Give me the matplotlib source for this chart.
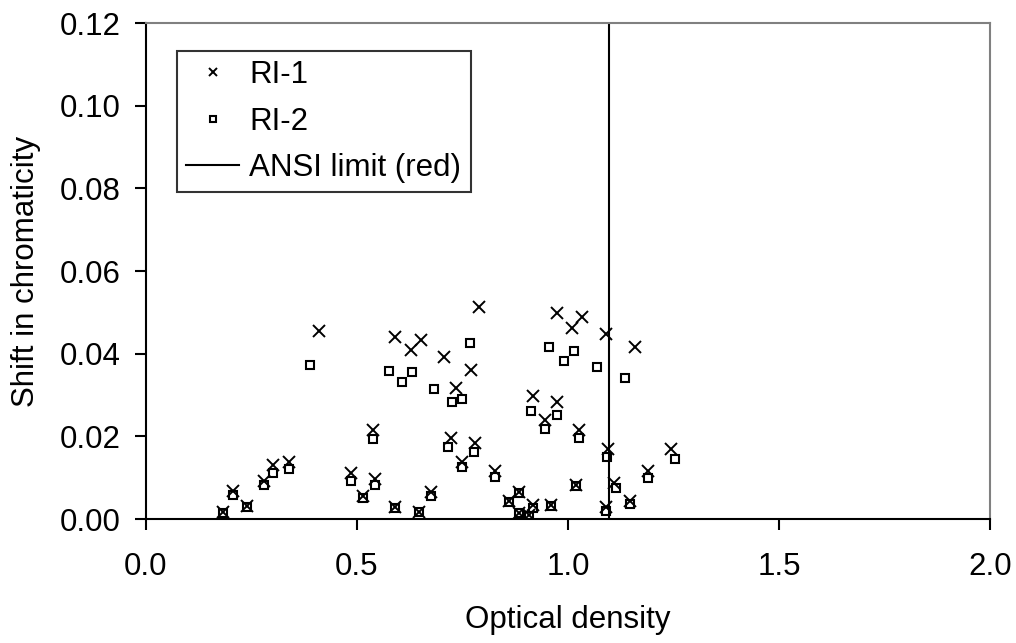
import numpy as np
import matplotlib
matplotlib.use("Agg")
from matplotlib import pyplot as plt

# RI-1 (crosses)
ri1_x = [0.182, 0.205, 0.239, 0.280, 0.302, 0.338, 0.410, 0.485, 0.514, 0.538, 0.542,
         0.591, 0.591, 0.627, 0.647, 0.652, 0.675, 0.705, 0.722, 0.734, 0.750, 0.770,
         0.780, 0.790, 0.827, 0.861, 0.884, 0.884, 0.908, 0.916, 0.918, 0.946, 0.960,
         0.975, 0.975, 1.009, 1.020, 1.027, 1.033, 1.089, 1.090, 1.094, 1.110, 1.146,
         1.158, 1.189, 1.245]
ri1_y = [0.0018, 0.0068, 0.0032, 0.0092, 0.0131, 0.0139, 0.0455, 0.0112, 0.0056, 0.0215, 0.0096,
         0.0440, 0.0030, 0.0408, 0.0018, 0.0433, 0.0066, 0.0391, 0.0195, 0.0318, 0.0139, 0.0361,
         0.0183, 0.0512, 0.0115, 0.0044, 0.0066, 0.0014, 0.0010, 0.0033, 0.0298, 0.0240, 0.0034,
         0.0498, 0.0284, 0.0463, 0.0082, 0.0215, 0.0489, 0.0448, 0.0028, 0.0169, 0.0088, 0.0043,
         0.0415, 0.0116, 0.0169]

# RI-2 (squares)
ri2_x = [0.182, 0.205, 0.239, 0.280, 0.302, 0.338, 0.389, 0.485, 0.514, 0.538, 0.542,
         0.575, 0.591, 0.607, 0.631, 0.647, 0.675, 0.683, 0.716, 0.726, 0.750, 0.750,
         0.768, 0.777, 0.827, 0.861, 0.884, 0.884, 0.908, 0.912, 0.916, 0.945, 0.954,
         0.960, 0.973, 0.991, 1.015, 1.020, 1.025, 1.069, 1.091, 1.093, 1.114, 1.134,
         1.148, 1.190, 1.253]
ri2_y = [0.0015, 0.0058, 0.0030, 0.0082, 0.0112, 0.0121, 0.0373, 0.0092, 0.0050, 0.0194, 0.0082,
         0.0359, 0.0026, 0.0331, 0.0355, 0.0017, 0.0056, 0.0315, 0.0175, 0.0283, 0.0291, 0.0127,
         0.0427, 0.0163, 0.0102, 0.0040, 0.0064, 0.0014, 0.0008, 0.0262, 0.0027, 0.0219, 0.0417,
         0.0031, 0.0252, 0.0383, 0.0407, 0.0080, 0.0195, 0.0369, 0.0020, 0.0151, 0.0074, 0.0340,
         0.0036, 0.0099, 0.0145]

ansi_limit = 1.097

plt.rcParams['font.family'] = ['Liberation Sans', 'DejaVu Sans']
plt.rcParams['font.size'] = 22.5

fig = plt.figure(figsize=(10.16, 6.43), dpi=100)
ax = fig.add_axes([0.1437, 0.1928, 0.9744 - 0.1437, 0.9642 - 0.1928])

ax.plot(ri1_x, ri1_y, linestyle='none', marker='x', color='black',
        markersize=8, markeredgewidth=1.4, label='RI-1')
ax.plot(ri2_x, ri2_y, linestyle='none', marker='s', markerfacecolor='none',
        markeredgecolor='black', markersize=6, markeredgewidth=1.5, label='RI-2')
ax.axvline(ansi_limit, color='black', linewidth=1.5, label='ANSI limit (red)')

ax.set_xlim(0, 2.0)
ax.set_ylim(0, 0.12)
ax.set_xticks(np.arange(0, 2.01, 0.5))
ax.set_yticks(np.arange(0, 0.121, 0.02))
ax.set_xticklabels(['%.1f' % v for v in np.arange(0, 2.01, 0.5)])
ax.set_yticklabels(['%.2f' % v for v in np.arange(0, 0.121, 0.02)])
ax.tick_params(direction='out', length=8, width=1.5, pad=10)
ax.tick_params(axis='x', pad=16)

for side in ['left', 'bottom']:
    ax.spines[side].set_color('black')
    ax.spines[side].set_linewidth(1.5)
for side in ['top', 'right']:
    ax.spines[side].set_color('#808080')
    ax.spines[side].set_linewidth(1.5)

ax.set_xlabel('Optical density', labelpad=16)
ax.set_ylabel('Shift in chromaticity', labelpad=14)

leg = ax.legend(loc='upper left', bbox_to_anchor=(0.0367, 0.9435), frameon=True,
                fancybox=False, borderpad=0.3, labelspacing=0.52, handlelength=1.7,
                handletextpad=0.32, borderaxespad=0, markerscale=0.75)
leg.get_frame().set_edgecolor('black')
leg.get_frame().set_linewidth(1.5)

fig.savefig('out.png', dpi=100)
